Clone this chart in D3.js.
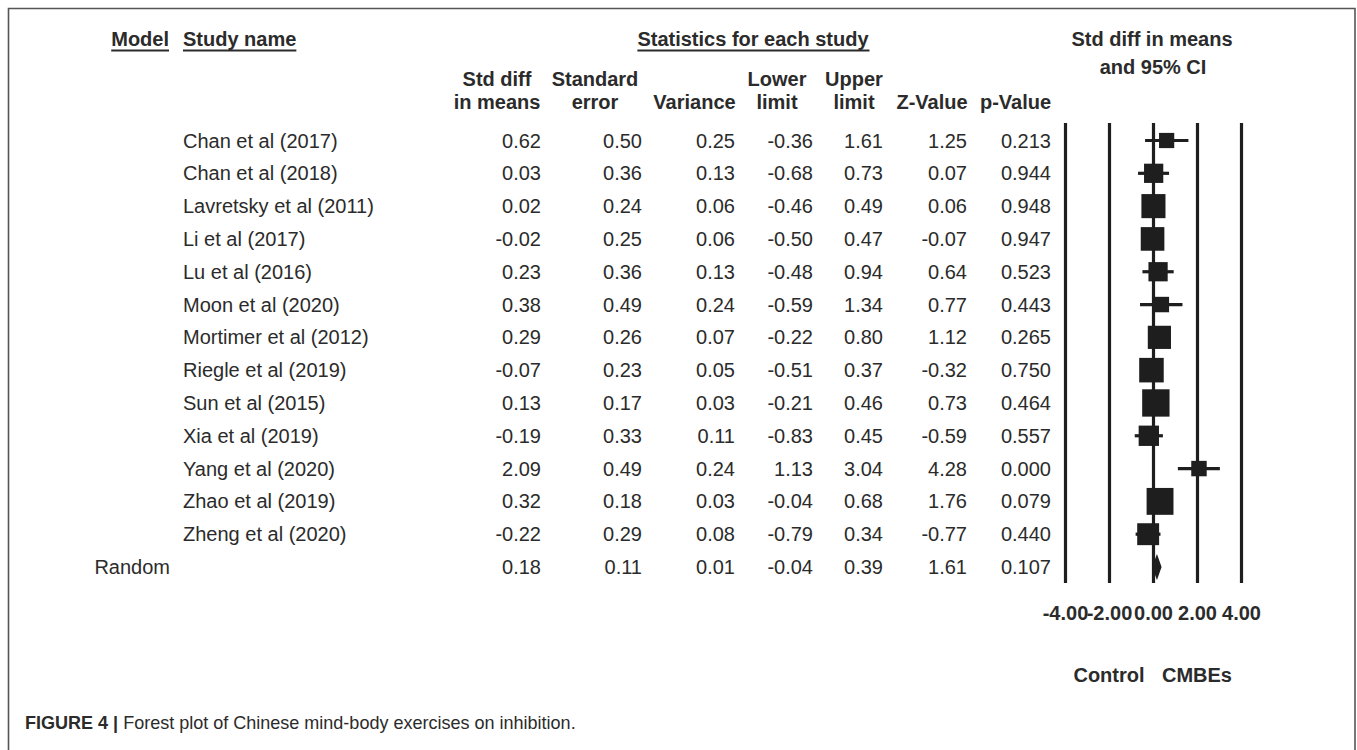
<!DOCTYPE html>
<html>
<head>
<meta charset="utf-8">
<script src="https://cdn.jsdelivr.net/npm/d3@7"></script>
<style>
  html, body { margin: 0; padding: 0; background: #fff; }
  svg { display: block; }
  text { font-family: "Liberation Sans", Arial, Helvetica, sans-serif; fill: #2b2b2b; }
</style>
</head>
<body>
<svg id="chart" width="1357" height="750"></svg>
<script>
// Study-level statistics (random-effects meta-analysis of inhibition outcomes)
const studies = [
  "Chan et al (2017)", "Chan et al (2018)", "Lavretsky et al (2011)", "Li et al (2017)",
  "Lu et al (2016)", "Moon et al (2020)", "Mortimer et al (2012)", "Riegle et al (2019)",
  "Sun et al (2015)", "Xia et al (2019)", "Yang et al (2020)", "Zhao et al (2019)",
  "Zheng et al (2020)"
];
const stdDiff   = [0.62, 0.03, 0.02, -0.02, 0.23, 0.38, 0.29, -0.07, 0.13, -0.19, 2.09, 0.32, -0.22];
const stdErr    = [0.50, 0.36, 0.24, 0.25, 0.36, 0.49, 0.26, 0.23, 0.17, 0.33, 0.49, 0.18, 0.29];
const variance  = [0.25, 0.13, 0.06, 0.06, 0.13, 0.24, 0.07, 0.05, 0.03, 0.11, 0.24, 0.03, 0.08];
const lowerLim  = [-0.36, -0.68, -0.46, -0.50, -0.48, -0.59, -0.22, -0.51, -0.21, -0.83, 1.13, -0.04, -0.79];
const upperLim  = [1.61, 0.73, 0.49, 0.47, 0.94, 1.34, 0.80, 0.37, 0.46, 0.45, 3.04, 0.68, 0.34];
const zValue    = [1.25, 0.07, 0.06, -0.07, 0.64, 0.77, 1.12, -0.32, 0.73, -0.59, 4.28, 1.76, -0.77];
const pValue    = [0.213, 0.944, 0.948, 0.947, 0.523, 0.443, 0.265, 0.750, 0.464, 0.557, 0.000, 0.079, 0.440];

// Pooled (random-effects) summary
const pooledLabel = "Random";
const pooled = { stdDiff: 0.18, stdErr: 0.11, variance: 0.01, lower: -0.04, upper: 0.39, z: 1.61, p: 0.107 };
const tau2 = 0.07; // between-study variance used for the random-effects weights

const axisTicks = [-4, -2, 0, 2, 4];
const sideLabels = ["Control", "CMBEs"];
const sideLabelAt = [-2, 2];

// ---------------------------------------------------------------------------
const svg = d3.svg = d3.select("#chart");
const loc = d3.formatLocale({ decimal: ".", thousands: ",", grouping: [3], currency: ["", ""], minus: "-" });
const f2 = loc.format(".2f");
const f3 = loc.format(".3f");

// Frame around the figure (open at the bottom edge)
svg.append("path")
  .attr("d", "M8.5,760 V8.5 H1355 V760")
  .attr("fill", "none").attr("stroke", "#555").attr("stroke-width", 1.6);

const rowY = d3.scaleLinear().domain([0, studies.length]).range([140.5, 567]);
const x = d3.scaleLinear().domain([-4, 4]).range([1065, 1241]);

// Column layout of the statistics table
const columns = [
  { head: ["Std diff", "in means"], center: 497,   right: 541,  vals: stdDiff,  pv: pooled.stdDiff, fmt: f2 },
  { head: ["Standard", "error"],    center: 595,   right: 642,  vals: stdErr,   pv: pooled.stdErr,  fmt: f2 },
  { head: ["", "Variance"],         center: 694.5, right: 735,  vals: variance, pv: pooled.variance, fmt: f2 },
  { head: ["Lower", "limit"],       center: 777,   right: 813,  vals: lowerLim, pv: pooled.lower,   fmt: f2 },
  { head: ["Upper", "limit"],       center: 854,   right: 883,  vals: upperLim, pv: pooled.upper,   fmt: f2 },
  { head: ["", "Z-Value"],          center: 932,   right: 967,  vals: zValue,   pv: pooled.z,       fmt: f2 },
  { head: ["", "p-Value"],          center: 1015.5, right: 1051, vals: pValue,  pv: pooled.p,       fmt: f3 }
];

const FS = 20;

// Underlined group headers
function underlined(txt, xPos, anchor) {
  const t = svg.append("text")
    .attr("x", xPos).attr("y", 39).attr("dy", "0.35em")
    .attr("text-anchor", anchor)
    .attr("font-size", FS).attr("font-weight", "bold")
    .text(txt);
  const bb = t.node().getBBox();
  svg.append("line")
    .attr("x1", bb.x).attr("x2", bb.x + bb.width)
    .attr("y1", 50.5).attr("y2", 50.5)
    .attr("stroke", "#2b2b2b").attr("stroke-width", 1.8);
}
underlined("Model", 169, "end");
underlined("Study name", 183, "start");
underlined("Statistics for each study", 753, "middle");

// Plot title
svg.append("text").attr("x", 1152).attr("y", 39).attr("dy", "0.35em")
  .attr("text-anchor", "middle").attr("font-size", FS).attr("font-weight", "bold")
  .text("Std diff in means");
svg.append("text").attr("x", 1153).attr("y", 67).attr("dy", "0.35em")
  .attr("text-anchor", "middle").attr("font-size", FS).attr("font-weight", "bold")
  .text("and 95% CI");

// Column headers
columns.forEach(c => {
  c.head.forEach((h, k) => {
    if (!h) return;
    svg.append("text")
      .attr("x", c.center).attr("y", k === 0 ? 79 : 102).attr("dy", "0.35em")
      .attr("text-anchor", "middle").attr("font-size", FS).attr("font-weight", "bold")
      .text(h);
  });
});

// Study rows
const rows = svg.append("g");
studies.forEach((s, i) => {
  const y = rowY(i);
  rows.append("text").attr("x", 183).attr("y", y).attr("dy", "0.35em")
    .attr("font-size", FS).text(s);
  columns.forEach(c => {
    rows.append("text").attr("x", c.right).attr("y", y).attr("dy", "0.35em")
      .attr("text-anchor", "end").attr("font-size", FS).text(c.fmt(c.vals[i]));
  });
});
// Pooled row
const yP = rowY(studies.length);
rows.append("text").attr("x", 170).attr("y", yP).attr("dy", "0.35em")
  .attr("text-anchor", "end").attr("font-size", FS).text(pooledLabel);
columns.forEach(c => {
  rows.append("text").attr("x", c.right).attr("y", yP).attr("dy", "0.35em")
    .attr("text-anchor", "end").attr("font-size", FS).text(c.fmt(c.pv));
});

// Forest plot: reference lines at each tick, drawn with a d3 axis
const lineTop = 123, lineBottom = 583;
const axis = d3.axisBottom(x)
  .tickValues(axisTicks)
  .tickFormat(d => f2(d))
  .tickSize(-(lineBottom - lineTop))
  .tickPadding(0);
const ax = svg.append("g").attr("transform", `translate(0,${lineBottom})`).call(axis);
ax.select(".domain").remove();
ax.selectAll(".tick line").attr("stroke", "#1e1e1e").attr("stroke-width", 3.2);
ax.selectAll(".tick text")
  .attr("y", 30).attr("dy", "0.35em")
  .attr("font-family", null)
  .attr("font-size", FS).attr("font-weight", "bold")
  .attr("fill", "#2b2b2b");

// Confidence intervals and weighted squares
const weight = stdErr.map(se => 1 / (se * se + tau2));
const side = d3.scaleSqrt().domain([0, 1]).range([0, 8.6]);
const marks = svg.append("g");
studies.forEach((s, i) => {
  const y = rowY(i);
  marks.append("line")
    .attr("x1", x(lowerLim[i])).attr("x2", x(upperLim[i]))
    .attr("y1", y).attr("y2", y)
    .attr("stroke", "#1e1e1e").attr("stroke-width", 3.2);
  const w = side(weight[i]);
  marks.append("rect")
    .attr("x", x(stdDiff[i]) - w / 2).attr("y", y - w / 2)
    .attr("width", w).attr("height", w)
    .attr("fill", "#1e1e1e");
});

// Pooled estimate diamond
const dh = 13;
marks.append("polygon")
  .attr("points", [
    [x(pooled.lower), yP], [x(pooled.stdDiff), yP - dh],
    [x(pooled.upper), yP], [x(pooled.stdDiff), yP + dh]
  ].map(p => p.join(",")).join(" "))
  .attr("fill", "#1e1e1e");

// Direction labels under the axis
sideLabels.forEach((lab, k) => {
  svg.append("text").attr("x", x(sideLabelAt[k])).attr("y", 675).attr("dy", "0.35em")
    .attr("text-anchor", "middle").attr("font-size", FS).attr("font-weight", "bold")
    .text(lab);
});

// Figure caption
const cap = svg.append("text").attr("x", 0).attr("y", 0).attr("dy", "0.35em")
  .attr("font-size", 18)
  .style("font-family", "'Liberation Sans Narrow', 'Arial Narrow', 'Liberation Sans', Arial, sans-serif")
  .attr("fill", "#333");
cap.append("tspan").attr("font-weight", "bold").text("FIGURE 4");
cap.append("tspan").attr("font-weight", "bold").text(" | ");
cap.append("tspan").text("Forest plot of Chinese mind-body exercises on inhibition.");
const capW = cap.node().getComputedTextLength();
const targetW = 551;
cap.attr("transform", `translate(25,723) scale(${targetW / capW},1)`);
</script>
</body>
</html>
